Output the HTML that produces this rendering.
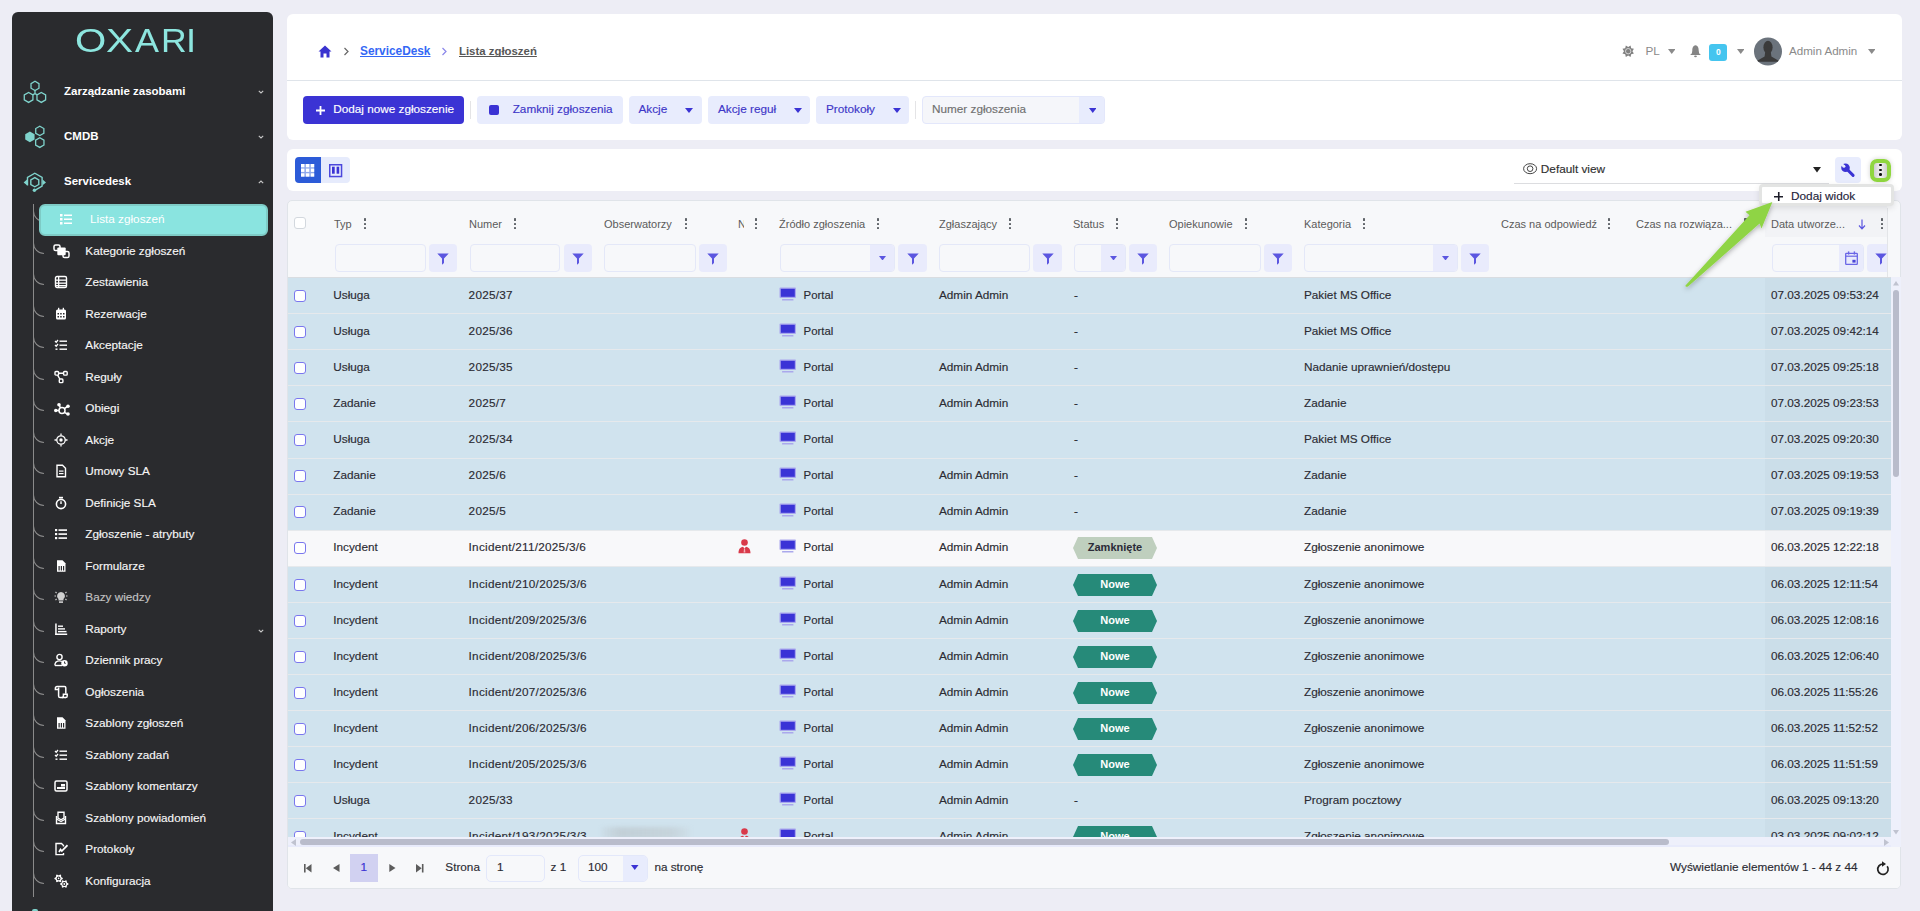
<!DOCTYPE html><html><head><meta charset="utf-8"><title>Lista zgłoszeń</title><style>
*{box-sizing:border-box}
html,body{margin:0;padding:0}
body{width:1920px;height:911px;overflow:hidden;background:#ededf5;position:relative;font-family:'Liberation Sans', Arial, sans-serif}
.t{position:absolute;white-space:nowrap;line-height:20px;font-family:'Liberation Sans', Arial, sans-serif}
.r{position:absolute}
.s{-webkit-text-stroke:0.15px currentColor}
</style></head><body>
<div class="r" style="left:12px;top:12px;width:261px;height:930px;background:#2a2b2e;border-radius:6px"></div>
<div class="t" style="left:75.29px;top:21.5px;font-size:34px;line-height:36px;color:#8de6df;font-weight:normal;transform-origin:0 0;transform:scaleX(1.183)">O</div>
<div class="t" style="left:105.63px;top:21.5px;font-size:34px;line-height:36px;color:#8de6df;font-weight:normal;transform-origin:0 0;transform:scaleX(1.194)">X</div>
<div class="t" style="left:135.30px;top:21.5px;font-size:34px;line-height:36px;color:#8de6df;font-weight:normal;transform-origin:0 0;transform:scaleX(1.058)">A</div>
<div class="t" style="left:161.07px;top:21.5px;font-size:34px;line-height:36px;color:#8de6df;font-weight:normal;transform-origin:0 0;transform:scaleX(1.046)">R</div>
<div class="t" style="left:186.40px;top:21.5px;font-size:34px;line-height:36px;color:#8de6df;font-weight:normal;transform-origin:0 0;transform:scaleX(1.067)">I</div>
<svg class="r" style="left:23px;top:80px;" width="24" height="24" viewBox="0 0 24 24"><g fill="none" stroke="#7fd3cc" stroke-width="1.3"><polygon points="15.98,8.20 12.00,10.50 8.02,8.20 8.02,3.60 12.00,1.30 15.98,3.60"/><polygon points="9.93,19.90 5.60,22.40 1.27,19.90 1.27,14.90 5.60,12.40 9.93,14.90"/><polygon points="22.63,19.90 18.30,22.40 13.97,19.90 13.97,14.90 18.30,12.40 22.63,14.90"/><path d="M12,10.5 V13.6 L9.7,14.9 M12,13.6 L14.3,14.9"/></g></svg>
<svg class="r" style="left:24px;top:125px;" width="24" height="24" viewBox="0 0 24 24"><g fill="none" stroke="#7fd3cc" stroke-width="1.3"><polygon points="19.87,8.25 15.80,10.60 11.73,8.25 11.73,3.55 15.80,1.20 19.87,3.55"/><polygon points="19.96,20.00 15.80,22.40 11.64,20.00 11.64,15.20 15.80,12.80 19.96,15.20"/></g><polygon fill="#7fd3cc" points="10.58,14.60 5.90,17.30 1.22,14.60 1.22,9.20 5.90,6.50 10.58,9.20"/></svg>
<svg class="r" style="left:23px;top:171px;" width="24" height="22" viewBox="0 0 24 22"><g fill="none" stroke="#7fd3cc" stroke-width="1.4"><polygon points="15.78,13.50 11.80,15.80 7.82,13.50 7.82,8.90 11.80,6.60 15.78,8.90"/><path d="M4.5,14.5 V6.4 L11.8,2.2 L19.1,6.4 V15.2 L11.8,19.4"/></g><path fill="#7fd3cc" d="M0.6,11.4 L4,8.6 L4,14.2Z M23,11.4 L19.6,8.6 L19.6,14.2Z"/><circle cx="11.4" cy="19.2" r="1.7" fill="#7fd3cc"/></svg>
<div class="t" style="left:64px;top:81px;font-size:11.5px;font-weight:bold;color:#ffffff;">Zarządzanie zasobami</div>
<div class="t" style="left:64px;top:126px;font-size:11.5px;font-weight:bold;color:#ffffff;">CMDB</div>
<div class="t" style="left:64px;top:171px;font-size:11.5px;font-weight:bold;color:#ffffff;">Servicedesk</div>
<svg class="r" style="left:258px;top:90px;" width="6" height="4" viewBox="0 0 6 4"><path d="M0.8,0.8 L3,3 L5.2,0.8" fill="none" stroke="#c8c8c8" stroke-width="1.1"/></svg>
<svg class="r" style="left:258px;top:135px;" width="6" height="4" viewBox="0 0 6 4"><path d="M0.8,0.8 L3,3 L5.2,0.8" fill="none" stroke="#c8c8c8" stroke-width="1.1"/></svg>
<svg class="r" style="left:258px;top:180px;" width="6" height="4" viewBox="0 0 6 4"><path d="M0.8,3.2 L3,1 L5.2,3.2" fill="none" stroke="#c8c8c8" stroke-width="1.1"/></svg>
<div class="r" style="left:33px;top:204px;width:1px;height:693px;background:#8a8a8a;"></div>
<div class="r" style="left:33px;top:207px;width:11px;height:15px;border-left:1px solid #8a8a8a;border-bottom:1px solid #8a8a8a;border-bottom-left-radius:11px"></div>
<div class="r" style="left:39px;top:204px;width:229px;height:32px;background:#8ae4e0;border:2px solid #7ecbc6;border-radius:6px"></div>
<div class="t" style="left:90px;top:208.5px;font-size:11.75px;font-weight:400;color:#ffffff;">Lista zgłoszeń</div>
<div class="r" style="left:33px;top:239px;width:11px;height:15px;border-left:1px solid #8a8a8a;border-bottom:1px solid #8a8a8a;border-bottom-left-radius:11px"></div>
<div class="t s" style="left:85.3px;top:241px;font-size:11.75px;font-weight:normal;color:#f6f6f6;">Kategorie zgłoszeń</div>
<div class="r" style="left:33px;top:270px;width:11px;height:15px;border-left:1px solid #8a8a8a;border-bottom:1px solid #8a8a8a;border-bottom-left-radius:11px"></div>
<div class="t s" style="left:85.3px;top:272px;font-size:11.75px;font-weight:normal;color:#f6f6f6;">Zestawienia</div>
<div class="r" style="left:33px;top:302px;width:11px;height:15px;border-left:1px solid #8a8a8a;border-bottom:1px solid #8a8a8a;border-bottom-left-radius:11px"></div>
<div class="t s" style="left:85.3px;top:304px;font-size:11.75px;font-weight:normal;color:#f6f6f6;">Rezerwacje</div>
<div class="r" style="left:33px;top:333px;width:11px;height:15px;border-left:1px solid #8a8a8a;border-bottom:1px solid #8a8a8a;border-bottom-left-radius:11px"></div>
<div class="t s" style="left:85.3px;top:335px;font-size:11.75px;font-weight:normal;color:#f6f6f6;">Akceptacje</div>
<div class="r" style="left:33px;top:365px;width:11px;height:15px;border-left:1px solid #8a8a8a;border-bottom:1px solid #8a8a8a;border-bottom-left-radius:11px"></div>
<div class="t s" style="left:85.3px;top:367px;font-size:11.75px;font-weight:normal;color:#f6f6f6;">Reguły</div>
<div class="r" style="left:33px;top:396px;width:11px;height:15px;border-left:1px solid #8a8a8a;border-bottom:1px solid #8a8a8a;border-bottom-left-radius:11px"></div>
<div class="t s" style="left:85.3px;top:398px;font-size:11.75px;font-weight:normal;color:#f6f6f6;">Obiegi</div>
<div class="r" style="left:33px;top:428px;width:11px;height:15px;border-left:1px solid #8a8a8a;border-bottom:1px solid #8a8a8a;border-bottom-left-radius:11px"></div>
<div class="t s" style="left:85.3px;top:430px;font-size:11.75px;font-weight:normal;color:#f6f6f6;">Akcje</div>
<div class="r" style="left:33px;top:459px;width:11px;height:15px;border-left:1px solid #8a8a8a;border-bottom:1px solid #8a8a8a;border-bottom-left-radius:11px"></div>
<div class="t s" style="left:85.3px;top:461px;font-size:11.75px;font-weight:normal;color:#f6f6f6;">Umowy SLA</div>
<div class="r" style="left:33px;top:491px;width:11px;height:15px;border-left:1px solid #8a8a8a;border-bottom:1px solid #8a8a8a;border-bottom-left-radius:11px"></div>
<div class="t s" style="left:85.3px;top:493px;font-size:11.75px;font-weight:normal;color:#f6f6f6;">Definicje SLA</div>
<div class="r" style="left:33px;top:522px;width:11px;height:15px;border-left:1px solid #8a8a8a;border-bottom:1px solid #8a8a8a;border-bottom-left-radius:11px"></div>
<div class="t s" style="left:85.3px;top:524px;font-size:11.75px;font-weight:normal;color:#f6f6f6;">Zgłoszenie - atrybuty</div>
<div class="r" style="left:33px;top:554px;width:11px;height:15px;border-left:1px solid #8a8a8a;border-bottom:1px solid #8a8a8a;border-bottom-left-radius:11px"></div>
<div class="t s" style="left:85.3px;top:556px;font-size:11.75px;font-weight:normal;color:#f6f6f6;">Formularze</div>
<div class="r" style="left:33px;top:585px;width:11px;height:15px;border-left:1px solid #8a8a8a;border-bottom:1px solid #8a8a8a;border-bottom-left-radius:11px"></div>
<div class="t s" style="left:85.3px;top:587px;font-size:11.75px;font-weight:normal;color:#c2c2c2;">Bazy wiedzy</div>
<div class="r" style="left:33px;top:617px;width:11px;height:15px;border-left:1px solid #8a8a8a;border-bottom:1px solid #8a8a8a;border-bottom-left-radius:11px"></div>
<div class="t s" style="left:85.3px;top:619px;font-size:11.75px;font-weight:normal;color:#f6f6f6;">Raporty</div>
<svg class="r" style="left:258px;top:629px;" width="6" height="4" viewBox="0 0 6 4"><path d="M0.8,0.8 L3,3 L5.2,0.8" fill="none" stroke="#c8c8c8" stroke-width="1.1"/></svg>
<div class="r" style="left:33px;top:648px;width:11px;height:15px;border-left:1px solid #8a8a8a;border-bottom:1px solid #8a8a8a;border-bottom-left-radius:11px"></div>
<div class="t s" style="left:85.3px;top:650px;font-size:11.75px;font-weight:normal;color:#f6f6f6;">Dziennik pracy</div>
<div class="r" style="left:33px;top:680px;width:11px;height:15px;border-left:1px solid #8a8a8a;border-bottom:1px solid #8a8a8a;border-bottom-left-radius:11px"></div>
<div class="t s" style="left:85.3px;top:682px;font-size:11.75px;font-weight:normal;color:#f6f6f6;">Ogłoszenia</div>
<div class="r" style="left:33px;top:711px;width:11px;height:15px;border-left:1px solid #8a8a8a;border-bottom:1px solid #8a8a8a;border-bottom-left-radius:11px"></div>
<div class="t s" style="left:85.3px;top:713px;font-size:11.75px;font-weight:normal;color:#f6f6f6;">Szablony zgłoszeń</div>
<div class="r" style="left:33px;top:743px;width:11px;height:15px;border-left:1px solid #8a8a8a;border-bottom:1px solid #8a8a8a;border-bottom-left-radius:11px"></div>
<div class="t s" style="left:85.3px;top:745px;font-size:11.75px;font-weight:normal;color:#f6f6f6;">Szablony zadań</div>
<div class="r" style="left:33px;top:774px;width:11px;height:15px;border-left:1px solid #8a8a8a;border-bottom:1px solid #8a8a8a;border-bottom-left-radius:11px"></div>
<div class="t s" style="left:85.3px;top:776px;font-size:11.75px;font-weight:normal;color:#f6f6f6;">Szablony komentarzy</div>
<div class="r" style="left:33px;top:806px;width:11px;height:15px;border-left:1px solid #8a8a8a;border-bottom:1px solid #8a8a8a;border-bottom-left-radius:11px"></div>
<div class="t s" style="left:85.3px;top:808px;font-size:11.75px;font-weight:normal;color:#f6f6f6;">Szablony powiadomień</div>
<div class="r" style="left:33px;top:837px;width:11px;height:15px;border-left:1px solid #8a8a8a;border-bottom:1px solid #8a8a8a;border-bottom-left-radius:11px"></div>
<div class="t s" style="left:85.3px;top:839px;font-size:11.75px;font-weight:normal;color:#f6f6f6;">Protokoły</div>
<div class="r" style="left:33px;top:869px;width:11px;height:15px;border-left:1px solid #8a8a8a;border-bottom:1px solid #8a8a8a;border-bottom-left-radius:11px"></div>
<div class="t s" style="left:85.3px;top:871px;font-size:11.75px;font-weight:normal;color:#f6f6f6;">Konfiguracja</div>
<svg class="r" style="left:59px;top:212px;" width="14" height="14" viewBox="0 0 14 14"><g fill="#ffffff"><rect x="1" y="2" width="2.5" height="2.5"/><rect x="1" y="6" width="2.5" height="2.5"/><rect x="1" y="10" width="2.5" height="2.5"/><rect x="5" y="2.5" width="8" height="1.5"/><rect x="5" y="6.5" width="8" height="1.5"/><rect x="5" y="10.5" width="8" height="1.5"/></g></svg>
<svg class="r" style="left:53px;top:244px;" width="17" height="15" viewBox="0 0 17 15"><g fill="none" stroke="#ffffff" stroke-width="1.5"><rect x="1" y="1" width="6" height="5.5" rx="1.6"/><rect x="10" y="7.5" width="6" height="6" rx="1.6"/></g><rect x="4.3" y="3.6" width="8.4" height="7.6" rx="1" fill="#ffffff"/></svg>
<svg class="r" style="left:54px;top:275px;" width="14" height="14" viewBox="0 0 14 14"><rect x="1.5" y="1.5" width="11" height="11" rx="1.5" fill="none" stroke="#ffffff" stroke-width="1.4"/><g fill="#ffffff"><rect x="1.5" y="4.5" width="11" height="1.3"/><rect x="1.5" y="7.5" width="11" height="1.3"/><rect x="1.5" y="10" width="11" height="1.3"/><rect x="4" y="1.5" width="1.3" height="11"/></g></svg>
<svg class="r" style="left:54px;top:307px;" width="14" height="14" viewBox="0 0 14 14"><rect x="2" y="2.5" width="10" height="10" rx="1.5" fill="#ffffff"/><g fill="#2a2b2e"><rect x="3.5" y="6" width="1.5" height="1.5"/><rect x="6.2" y="6" width="1.5" height="1.5"/><rect x="9" y="6" width="1.5" height="1.5"/><rect x="3.5" y="9" width="1.5" height="1.5"/><rect x="6.2" y="9" width="1.5" height="1.5"/><rect x="9" y="9" width="1.5" height="1.5"/></g><g fill="#ffffff"><rect x="4" y="0.8" width="1.3" height="3"/><rect x="8.7" y="0.8" width="1.3" height="3"/></g></svg>
<svg class="r" style="left:54px;top:338px;" width="14" height="14" viewBox="0 0 14 14"><g fill="none" stroke="#ffffff" stroke-width="1.3"><path d="M1,3 L2.2,4.2 L4,2"/><path d="M1,7 L2.2,8.2 L4,6"/></g><g fill="#ffffff"><rect x="5.5" y="2.5" width="7.5" height="1.4"/><rect x="5.5" y="6.5" width="7.5" height="1.4"/><rect x="5.5" y="10.5" width="7.5" height="1.4"/><rect x="1.5" y="10.5" width="2" height="1.4"/></g></svg>
<svg class="r" style="left:54px;top:370px;" width="14" height="14" viewBox="0 0 14 14"><g fill="none" stroke="#ffffff" stroke-width="1.4"><rect x="1" y="1.5" width="3.6" height="3.6" rx="0.9"/><rect x="9.6" y="1.5" width="3.6" height="3.6" rx="0.9"/><rect x="5.3" y="9" width="3.6" height="3.6" rx="0.9"/><path d="M4.6,3.3 H9.6 M3.6,5.1 L5.8,9"/></g></svg>
<svg class="r" style="left:54px;top:400px;" width="16" height="16" viewBox="0 0 16 16"><g fill="none" stroke="#ffffff" stroke-width="1.5"><circle cx="8" cy="10.5" r="3"/><path d="M2,10.5 H5 M5.2,5 L6.5,8 M13.5,6.5 L10.3,8.6 M13.5,14 L10.3,12.4"/></g><g fill="#ffffff"><circle cx="5" cy="4.7" r="1.8"/><circle cx="1.8" cy="10.5" r="1.8"/><circle cx="14" cy="6.3" r="1.8"/><circle cx="14" cy="14" r="1.8"/></g></svg>
<svg class="r" style="left:54px;top:433px;" width="14" height="14" viewBox="0 0 14 14"><g fill="none" stroke="#ffffff" stroke-width="1.3"><circle cx="7" cy="7" r="4.2"/><path d="M7,0.5 V2.8 M7,11.2 V13.5 M0.5,7 H2.8 M11.2,7 H13.5"/></g><circle cx="7" cy="7" r="1.7" fill="#ffffff"/></svg>
<svg class="r" style="left:54px;top:464px;" width="14" height="14" viewBox="0 0 14 14"><path d="M3,1.2 H8.5 L11.5,4.2 V12.8 H3Z" fill="none" stroke="#ffffff" stroke-width="1.4"/><g fill="#ffffff"><rect x="5" y="6.5" width="4.5" height="1.2"/><rect x="5" y="9" width="4.5" height="1.2"/></g></svg>
<svg class="r" style="left:54px;top:496px;" width="14" height="14" viewBox="0 0 14 14"><circle cx="7" cy="8" r="4.6" fill="none" stroke="#ffffff" stroke-width="1.6"/><path d="M7,8 V5.2" stroke="#ffffff" stroke-width="1.4"/><rect x="5" y="0.8" width="4" height="1.6" fill="#ffffff"/></svg>
<svg class="r" style="left:54px;top:527px;" width="14" height="14" viewBox="0 0 14 14"><g fill="#ffffff"><rect x="1" y="2" width="2.2" height="2.2"/><rect x="1" y="6" width="2.2" height="2.2"/><rect x="1" y="10" width="2.2" height="2.2"/><rect x="4.5" y="2.3" width="8.5" height="1.6"/><rect x="4.5" y="6.3" width="8.5" height="1.6"/><rect x="4.5" y="10.3" width="8.5" height="1.6"/></g></svg>
<svg class="r" style="left:54px;top:559px;" width="14" height="14" viewBox="0 0 14 14"><path d="M3,1.2 H8.5 L11.5,4.2 V12.8 H3Z" fill="#ffffff"/><g fill="#2a2b2e"><rect x="4.5" y="7" width="1.2" height="4.5"/><rect x="6.8" y="7" width="1.2" height="4.5"/><rect x="9" y="7" width="1.2" height="4.5"/></g></svg>
<svg class="r" style="left:54px;top:590px;" width="14" height="14" viewBox="0 0 14 14"><path d="M7,2 a4,4 0 0 1 2.5,7.1 V10.5 H4.5 V9.1 A4,4 0 0 1 7,2Z" fill="#d0d0d0"/><rect x="5" y="11.3" width="4" height="1.6" fill="#d0d0d0"/><g stroke="#d0d0d0" stroke-width="1.1"><path d="M0.5,6 H2 M12,6 H13.5 M1.5,2 L2.6,3 M12.5,2 L11.4,3 M1.5,10 L2.6,9 M12.5,10 L11.4,9"/></g></svg>
<svg class="r" style="left:54px;top:622px;" width="14" height="14" viewBox="0 0 14 14"><g fill="#ffffff"><rect x="1.2" y="1.5" width="1.5" height="11.5"/><rect x="1.2" y="11.5" width="12" height="1.5"/><rect x="4" y="3.5" width="5" height="1.4"/><rect x="4" y="6.2" width="7" height="1.4"/><rect x="4" y="8.9" width="8.5" height="1.4"/></g></svg>
<svg class="r" style="left:54px;top:653px;" width="14" height="14" viewBox="0 0 14 14"><circle cx="5.5" cy="4" r="2.6" fill="none" stroke="#ffffff" stroke-width="1.4"/><path d="M1,12.5 V11 A4.5,3.5 0 0 1 8,8.5" fill="none" stroke="#ffffff" stroke-width="1.4"/><path d="M1,12.5 H8" stroke="#ffffff" stroke-width="1.4"/><circle cx="10.5" cy="10.2" r="3.2" fill="#ffffff"/><path d="M10.5,8.5 V10.3 H11.8" stroke="#2a2b2e" stroke-width="0.9" fill="none"/></svg>
<svg class="r" style="left:54px;top:685px;" width="14" height="14" viewBox="0 0 14 14"><g fill="none" stroke="#ffffff" stroke-width="1.5"><path d="M3,1.5 H10.5 A1.3,1.3 0 0 1 11.8,2.8 V8.8"/><path d="M3,1.5 A1.6,1.6 0 0 0 1.4,3.1 V4.6 H4.5"/><path d="M4.6,2.5 V11 A1.6,1.6 0 0 0 6.2,12.6 H12"/><path d="M7.8,12.6 A1.6,1.6 0 0 0 9.4,11 V9.3 H13.2 V11 A1.6,1.6 0 0 1 11.6,12.6"/></g></svg>
<svg class="r" style="left:54px;top:716px;" width="14" height="14" viewBox="0 0 14 14"><path d="M3,1.2 H8.5 L11.5,4.2 V12.8 H3Z" fill="#ffffff"/><g fill="#2a2b2e"><rect x="4.5" y="7" width="1.2" height="4.5"/><rect x="6.8" y="7" width="1.2" height="4.5"/><rect x="9" y="7" width="1.2" height="4.5"/></g></svg>
<svg class="r" style="left:54px;top:748px;" width="14" height="14" viewBox="0 0 14 14"><g fill="none" stroke="#ffffff" stroke-width="1.3"><path d="M1,3 L2.2,4.2 L4,2"/><path d="M1,7 L2.2,8.2 L4,6"/></g><g fill="#ffffff"><rect x="5.5" y="2.5" width="7.5" height="1.4"/><rect x="5.5" y="6.5" width="7.5" height="1.4"/><rect x="5.5" y="10.5" width="7.5" height="1.4"/><rect x="1.5" y="10.5" width="2" height="1.4"/></g></svg>
<svg class="r" style="left:54px;top:779px;" width="14" height="14" viewBox="0 0 14 14"><rect x="1" y="2" width="12" height="10" rx="1.5" fill="none" stroke="#ffffff" stroke-width="1.5"/><g fill="#ffffff"><rect x="7" y="5" width="4" height="2.5"/><rect x="3" y="8" width="8" height="2"/></g></svg>
<svg class="r" style="left:54px;top:811px;" width="14" height="14" viewBox="0 0 14 14"><path d="M2.5,5 V12.5 H11.5 V5" fill="none" stroke="#ffffff" stroke-width="1.4"/><path d="M4,1.2 H10 V7 L7,8.8 L4,7Z" fill="none" stroke="#ffffff" stroke-width="1.4"/><path d="M2.5,8 L7,10.5 L11.5,8" fill="none" stroke="#ffffff" stroke-width="1.3"/></svg>
<svg class="r" style="left:54px;top:842px;" width="14" height="14" viewBox="0 0 14 14"><g fill="none" stroke="#ffffff" stroke-width="1.4"><path d="M9.5,4.5 V3.5 L7.5,1.5 H2 V12.6 H9.5 V11"/></g><path d="M5,10 L6.5,7.5 L7.8,9 L13.5,3.2" fill="none" stroke="#ffffff" stroke-width="1.7"/></svg>
<svg class="r" style="left:54px;top:874px;" width="15" height="15" viewBox="0 0 15 15"><polygon points="8.77,3.92 8.77,4.88 7.45,5.63 7.09,6.25 7.10,7.77 6.27,8.25 4.96,7.48 4.24,7.48 2.93,8.25 2.10,7.77 2.11,6.25 1.75,5.63 0.43,4.88 0.43,3.92 1.75,3.17 2.11,2.55 2.10,1.03 2.93,0.55 4.24,1.32 4.96,1.32 6.27,0.55 7.10,1.03 7.09,2.55 7.45,3.17" fill="#ffffff"/><circle cx="4.6" cy="4.4" r="1.9" fill="#2a2b2e"/><circle cx="4.6" cy="4.4" r="0.8" fill="#ffffff"/><polygon points="14.47,9.52 14.47,10.48 13.15,11.23 12.79,11.85 12.80,13.37 11.97,13.85 10.66,13.08 9.94,13.08 8.63,13.85 7.80,13.37 7.81,11.85 7.45,11.23 6.13,10.48 6.13,9.52 7.45,8.77 7.81,8.15 7.80,6.63 8.63,6.15 9.94,6.92 10.66,6.92 11.97,6.15 12.80,6.63 12.79,8.15 13.15,8.77" fill="#ffffff"/><circle cx="10.3" cy="10" r="2" fill="#2a2b2e"/><circle cx="10.3" cy="10" r="0.9" fill="#ffffff"/></svg>
<div class="r" style="left:32px;top:909px;width:6px;height:4px;background:#7fd3cc;border-radius:2px 2px 0 0"></div>
<div class="r" style="left:287px;top:14px;width:1615px;height:126px;background:#ffffff;border-radius:6px"></div>
<div class="r" style="left:287px;top:80px;width:1615px;height:1px;background:#dfe4ea;"></div>
<svg class="r" style="left:318px;top:45px;" width="14" height="13" viewBox="0 0 14 13"><path d="M7,0.5 L13.5,6.5 H11.5 V12.5 H8.5 V8.5 H5.5 V12.5 H2.5 V6.5 H0.5Z" fill="#3a33cf"/></svg>
<svg class="r" style="left:343px;top:47px;" width="7" height="9" viewBox="0 0 7 9"><path d="M1.5,1 L5,4.5 L1.5,8" fill="none" stroke="#666" stroke-width="1.2"/></svg>
<svg class="r" style="left:441px;top:47px;" width="7" height="9" viewBox="0 0 7 9"><path d="M1.5,1 L5,4.5 L1.5,8" fill="none" stroke="#8a86ea" stroke-width="1.2"/></svg>
<div class="t" style="left:360px;top:40.5px;font-size:11.85px;font-weight:bold;color:#3468f5;text-decoration:underline;text-underline-offset:1px;text-decoration-skip-ink:none">ServiceDesk</div>
<div class="t" style="left:459px;top:40.5px;font-size:11.4px;font-weight:bold;color:#575757;text-decoration:underline;text-underline-offset:1px;text-decoration-skip-ink:none">Lista zgłoszeń</div>
<svg class="r" style="left:1621.6px;top:45.1px;" width="12.4" height="12.4" viewBox="0 0 12.4 12.4"><polygon points="8.57,0.47 9.17,3.23 11.93,3.83 10.40,6.20 11.93,8.57 9.17,9.17 8.57,11.93 6.20,10.40 3.83,11.93 3.23,9.17 0.47,8.57 2.00,6.20 0.47,3.83 3.23,3.23 3.83,0.47 6.20,2.00" fill="#808080"/><circle cx="6.2" cy="6.2" r="2.7" fill="none" stroke="#e8e8e8" stroke-width="0.8"/></svg>
<div class="t" style="left:1645.5px;top:40.5px;font-size:11.75px;font-weight:400;color:#8a8a8a;">PL</div>
<svg class="r" style="left:1667.5px;top:49px;" width="7.5" height="5" viewBox="0 0 7.5 5"><path d="M0,0 H7.5 L3.75,5Z" fill="#8a8a8a"/></svg>
<svg class="r" style="left:1690px;top:45.3px;" width="11" height="13" viewBox="0 0 11 13"><path d="M5.5,0.2 C8.2,0.7 8.7,3 8.7,5.5 L9.1,8.2 L10.9,10 H0.1 L1.9,8.2 L2.3,5.5 C2.3,3 2.8,0.7 5.5,0.2Z" fill="#858585"/><ellipse cx="5.5" cy="11.3" rx="1.4" ry="0.9" fill="#858585"/></svg>
<div class="r" style="left:1709px;top:44px;width:18px;height:17px;background:#45c5ef;border-radius:3px"></div>
<div class="t" style="left:1716px;top:41.5px;font-size:8.5px;font-weight:bold;color:#ffffff;">0</div>
<svg class="r" style="left:1736.5px;top:49px;" width="7.5" height="5" viewBox="0 0 7.5 5"><path d="M0,0 H7.5 L3.75,5Z" fill="#8a8a8a"/></svg>
<svg class="r" style="left:1754px;top:37px;" width="28" height="29" viewBox="0 0 28 29"><defs><clipPath id="av"><circle cx="14" cy="14.5" r="14"/></clipPath></defs><circle cx="14" cy="14.5" r="14" fill="#6b737c"/><g clip-path="url(#av)" fill="#3a3a3a"><ellipse cx="14" cy="10.2" rx="4.6" ry="6.4"/><path d="M1.5,24.8 L10.6,19.6 L11.2,15 H16.8 L17.4,19.6 L26.5,24.8Z"/></g></svg>
<div class="t" style="left:1789px;top:40.5px;font-size:11.6px;font-weight:400;color:#8a8a8a;">Admin Admin</div>
<svg class="r" style="left:1867.5px;top:49px;" width="7.5" height="5" viewBox="0 0 7.5 5"><path d="M0,0 H7.5 L3.75,5Z" fill="#8a8a8a"/></svg>
<div class="r" style="left:303px;top:96px;width:161px;height:28px;background:#3b33d4;border-radius:4px"></div>
<svg class="r" style="left:315.5px;top:106px;" width="9" height="9" viewBox="0 0 9 9"><path d="M4.5,0 V9 M0,4.5 H9" stroke="#fff" stroke-width="1.8"/></svg>
<div class="t s" style="left:333.2px;top:99.4px;font-size:11.75px;font-weight:normal;color:#ffffff;">Dodaj nowe zgłoszenie</div>
<div class="r" style="left:470px;top:101px;width:1px;height:18px;background:#e4e4e6;"></div>
<div class="r" style="left:477px;top:96px;width:146px;height:28px;background:#e8ecfd;border-radius:4px"></div>
<div class="r" style="left:488.5px;top:104.5px;width:10.5px;height:10.5px;background:#3b33d4;border-radius:2px"></div>
<div class="t s" style="left:512.7px;top:99.4px;font-size:11.75px;font-weight:normal;color:#3d36c8;">Zamknij zgłoszenia</div>
<div class="r" style="left:629px;top:96px;width:72.5px;height:28px;background:#e8ecfd;border-radius:4px"></div>
<div class="t s" style="left:638.5px;top:99.4px;font-size:11.75px;font-weight:normal;color:#3d36c8;">Akcje</div>
<svg class="r" style="left:685px;top:107.5px;" width="8" height="5" viewBox="0 0 8 5"><path d="M0,0 H8 L4.0,5Z" fill="#3b33d4"/></svg>
<div class="r" style="left:708px;top:96px;width:102px;height:28px;background:#e8ecfd;border-radius:4px"></div>
<div class="t s" style="left:718px;top:99.4px;font-size:11.75px;font-weight:normal;color:#3d36c8;">Akcje reguł</div>
<svg class="r" style="left:794px;top:107.5px;" width="8" height="5" viewBox="0 0 8 5"><path d="M0,0 H8 L4.0,5Z" fill="#3b33d4"/></svg>
<div class="r" style="left:816px;top:96px;width:92.5px;height:28px;background:#e8ecfd;border-radius:4px"></div>
<div class="t s" style="left:826px;top:99.4px;font-size:11.75px;font-weight:normal;color:#3d36c8;">Protokoły</div>
<svg class="r" style="left:893px;top:107.5px;" width="8" height="5" viewBox="0 0 8 5"><path d="M0,0 H8 L4.0,5Z" fill="#3b33d4"/></svg>
<div class="r" style="left:915px;top:101px;width:1px;height:18px;background:#e4e4e6;"></div>
<div class="r" style="left:922px;top:96px;width:183px;height:28px;background:#f5f6fa;border:1px solid #e3e7fb;border-radius:4px"></div>
<div class="r" style="left:1079px;top:97px;width:25px;height:26px;background:#e8ecfd;border-radius:0 3px 3px 0"></div>
<div class="t s" style="left:932px;top:99.4px;font-size:11.75px;font-weight:normal;color:#707070;">Numer zgłoszenia</div>
<svg class="r" style="left:1088.5px;top:107.5px;" width="7.5" height="5" viewBox="0 0 7.5 5"><path d="M0,0 H7.5 L3.75,5Z" fill="#3b33d4"/></svg>
<div class="r" style="left:287px;top:149px;width:1615px;height:42px;background:#ffffff;border-radius:6px"></div>
<div class="r" style="left:295px;top:157px;width:26px;height:26px;background:#2c5bd8;border-radius:4px 0 0 4px"></div>
<div class="r" style="left:321px;top:157px;width:28.5px;height:26px;background:#e6ebfc;border-radius:0 4px 4px 0"></div>
<svg class="r" style="left:301px;top:164px;" width="13.5" height="13" viewBox="0 0 13.5 13"><rect x="0" y="0" width="13.2" height="12.7" fill="#8fa8ec"/><rect x="0" y="0" width="3.4" height="3.3" fill="#fff"/><rect x="0" y="4.6" width="3.4" height="3.3" fill="#fff"/><rect x="0" y="9.3" width="3.4" height="3.3" fill="#fff"/><rect x="4.9" y="0" width="3.4" height="3.3" fill="#fff"/><rect x="4.9" y="4.6" width="3.4" height="3.3" fill="#fff"/><rect x="4.9" y="9.3" width="3.4" height="3.3" fill="#fff"/><rect x="9.8" y="0" width="3.4" height="3.3" fill="#fff"/><rect x="9.8" y="4.6" width="3.4" height="3.3" fill="#fff"/><rect x="9.8" y="9.3" width="3.4" height="3.3" fill="#fff"/></svg>
<svg class="r" style="left:329px;top:164px;" width="13.5" height="13.5" viewBox="0 0 13.5 13.5"><rect x="0.75" y="0.75" width="11.8" height="11.8" fill="none" stroke="#4c47dc" stroke-width="1.5"/><rect x="3" y="2.7" width="2.7" height="7" fill="#3b33d4"/><rect x="7.6" y="2.7" width="2.6" height="7" fill="#3b33d4"/></svg>
<svg class="r" style="left:1522.5px;top:162.8px;" width="15" height="12" viewBox="0 0 15 12"><ellipse cx="7.1" cy="5.7" rx="6.5" ry="5" fill="none" stroke="#3a3a3a" stroke-width="0.95"/><circle cx="7.1" cy="5.7" r="2.8" fill="none" stroke="#3a3a3a" stroke-width="0.95"/></svg>
<div class="t s" style="left:1540.8px;top:158.9px;font-size:11.8px;font-weight:normal;color:#303030;">Default view</div>
<div class="r" style="left:1514px;top:183px;width:315px;height:1px;background:#dcdde0;"></div>
<svg class="r" style="left:1813px;top:167px;" width="8" height="5.5" viewBox="0 0 8 5.5"><path d="M0,0 H8 L4.0,5.5Z" fill="#222"/></svg>
<div class="r" style="left:1835px;top:157px;width:26px;height:25.5px;background:#e8ecfd;border-radius:4px"></div>
<svg class="r" style="left:1839px;top:160px;" width="17" height="18" viewBox="0 0 17 18"><circle cx="6.5" cy="7.8" r="4.3" fill="#3b33d4"/><line x1="6.5" y1="7.8" x2="14.1" y2="15.4" stroke="#3b33d4" stroke-width="3" stroke-linecap="round"/><circle cx="4.9" cy="6.2" r="1.5" fill="#e8ecfd"/><line x1="4.9" y1="6.2" x2="1.8" y2="3.1" stroke="#e8ecfd" stroke-width="2.2"/></svg>
<div class="r" style="left:1869.5px;top:159.3px;width:21px;height:22.3px;background:linear-gradient(90deg,#cfcfcf,#f2f2f2 50%,#cfcfcf);border:4.2px solid #8fd63f;border-radius:7px;box-shadow:0 0 5px rgba(0,0,0,0.18)"></div>
<div class="r" style="left:1879.2px;top:163.8px;width:2.6px;height:2.6px;background:#111;border-radius:50%"></div>
<div class="r" style="left:1879.2px;top:168.5px;width:2.6px;height:2.6px;background:#111;border-radius:50%"></div>
<div class="r" style="left:1879.2px;top:173px;width:2.6px;height:2.6px;background:#111;border-radius:50%"></div>
<div class="r" style="left:287px;top:200px;width:1614px;height:689px;background:#f7f8fa;border:1px solid #e0e4e9;border-radius:5px"></div>
<div class="r" style="left:294px;top:217px;width:12px;height:12px;background:#ffffff;border:1px solid #d3d8de;border-radius:3px"></div>
<div class="r" style="left:1765px;top:201px;width:122px;height:36px;background:#f2f3f6;"></div>
<div class="t" style="left:334px;top:214px;font-size:11px;font-weight:400;color:#5b5b5b;">Typ</div>
<div class="r" style="left:363.5px;top:218.2px;width:2.5px;height:2.4px;background:#5f6368;border-radius:0.6px"></div>
<div class="r" style="left:363.5px;top:222.6px;width:2.5px;height:2.4px;background:#5f6368;border-radius:0.6px"></div>
<div class="r" style="left:363.5px;top:227.1px;width:2.5px;height:2.4px;background:#5f6368;border-radius:0.6px"></div>
<div class="t" style="left:469px;top:214px;font-size:11px;font-weight:400;color:#5b5b5b;">Numer</div>
<div class="r" style="left:513.5px;top:218.2px;width:2.5px;height:2.4px;background:#5f6368;border-radius:0.6px"></div>
<div class="r" style="left:513.5px;top:222.6px;width:2.5px;height:2.4px;background:#5f6368;border-radius:0.6px"></div>
<div class="r" style="left:513.5px;top:227.1px;width:2.5px;height:2.4px;background:#5f6368;border-radius:0.6px"></div>
<div class="t" style="left:604px;top:214px;font-size:11px;font-weight:400;color:#5b5b5b;">Obserwatorzy</div>
<div class="r" style="left:684.5px;top:218.2px;width:2.5px;height:2.4px;background:#5f6368;border-radius:0.6px"></div>
<div class="r" style="left:684.5px;top:222.6px;width:2.5px;height:2.4px;background:#5f6368;border-radius:0.6px"></div>
<div class="r" style="left:684.5px;top:227.1px;width:2.5px;height:2.4px;background:#5f6368;border-radius:0.6px"></div>
<div class="t" style="left:738px;top:214px;font-size:11px;color:#5b5b5b;width:6px;overflow:hidden">N</div>
<div class="r" style="left:754.5px;top:218.2px;width:2.5px;height:2.4px;background:#5f6368;border-radius:0.6px"></div>
<div class="r" style="left:754.5px;top:222.6px;width:2.5px;height:2.4px;background:#5f6368;border-radius:0.6px"></div>
<div class="r" style="left:754.5px;top:227.1px;width:2.5px;height:2.4px;background:#5f6368;border-radius:0.6px"></div>
<div class="t" style="left:779px;top:214px;font-size:11px;font-weight:400;color:#5b5b5b;">Źródło zgłoszenia</div>
<div class="r" style="left:876.5px;top:218.2px;width:2.5px;height:2.4px;background:#5f6368;border-radius:0.6px"></div>
<div class="r" style="left:876.5px;top:222.6px;width:2.5px;height:2.4px;background:#5f6368;border-radius:0.6px"></div>
<div class="r" style="left:876.5px;top:227.1px;width:2.5px;height:2.4px;background:#5f6368;border-radius:0.6px"></div>
<div class="t" style="left:939px;top:214px;font-size:11px;font-weight:400;color:#5b5b5b;">Zgłaszający</div>
<div class="r" style="left:1008.5px;top:218.2px;width:2.5px;height:2.4px;background:#5f6368;border-radius:0.6px"></div>
<div class="r" style="left:1008.5px;top:222.6px;width:2.5px;height:2.4px;background:#5f6368;border-radius:0.6px"></div>
<div class="r" style="left:1008.5px;top:227.1px;width:2.5px;height:2.4px;background:#5f6368;border-radius:0.6px"></div>
<div class="t" style="left:1073px;top:214px;font-size:11px;font-weight:400;color:#5b5b5b;">Status</div>
<div class="r" style="left:1115.5px;top:218.2px;width:2.5px;height:2.4px;background:#5f6368;border-radius:0.6px"></div>
<div class="r" style="left:1115.5px;top:222.6px;width:2.5px;height:2.4px;background:#5f6368;border-radius:0.6px"></div>
<div class="r" style="left:1115.5px;top:227.1px;width:2.5px;height:2.4px;background:#5f6368;border-radius:0.6px"></div>
<div class="t" style="left:1169px;top:214px;font-size:11px;font-weight:400;color:#5b5b5b;">Opiekunowie</div>
<div class="r" style="left:1244.5px;top:218.2px;width:2.5px;height:2.4px;background:#5f6368;border-radius:0.6px"></div>
<div class="r" style="left:1244.5px;top:222.6px;width:2.5px;height:2.4px;background:#5f6368;border-radius:0.6px"></div>
<div class="r" style="left:1244.5px;top:227.1px;width:2.5px;height:2.4px;background:#5f6368;border-radius:0.6px"></div>
<div class="t" style="left:1304px;top:214px;font-size:11px;font-weight:400;color:#5b5b5b;">Kategoria</div>
<div class="r" style="left:1362.5px;top:218.2px;width:2.5px;height:2.4px;background:#5f6368;border-radius:0.6px"></div>
<div class="r" style="left:1362.5px;top:222.6px;width:2.5px;height:2.4px;background:#5f6368;border-radius:0.6px"></div>
<div class="r" style="left:1362.5px;top:227.1px;width:2.5px;height:2.4px;background:#5f6368;border-radius:0.6px"></div>
<div class="t" style="left:1501px;top:214px;font-size:11px;font-weight:400;color:#5b5b5b;">Czas na odpowiedź</div>
<div class="r" style="left:1607.5px;top:218.2px;width:2.5px;height:2.4px;background:#5f6368;border-radius:0.6px"></div>
<div class="r" style="left:1607.5px;top:222.6px;width:2.5px;height:2.4px;background:#5f6368;border-radius:0.6px"></div>
<div class="r" style="left:1607.5px;top:227.1px;width:2.5px;height:2.4px;background:#5f6368;border-radius:0.6px"></div>
<div class="t" style="left:1636px;top:214px;font-size:11px;font-weight:400;color:#5b5b5b;">Czas na rozwiąza...</div>
<div class="r" style="left:1744px;top:218.2px;width:2.5px;height:2.4px;background:#5f6368;border-radius:0.6px"></div>
<div class="r" style="left:1744px;top:222.6px;width:2.5px;height:2.4px;background:#5f6368;border-radius:0.6px"></div>
<div class="r" style="left:1744px;top:227.1px;width:2.5px;height:2.4px;background:#5f6368;border-radius:0.6px"></div>
<div class="t" style="left:1771px;top:214px;font-size:11px;font-weight:400;color:#5b5b5b;">Data utworze...</div>
<svg class="r" style="left:1858px;top:218.5px;" width="8" height="11" viewBox="0 0 8 11"><path d="M4,0.5 V9.5 M1,6.5 L4,9.8 L7,6.5" fill="none" stroke="#5a55e0" stroke-width="1.2"/></svg>
<div class="r" style="left:1880.5px;top:218.2px;width:2.5px;height:2.4px;background:#5f6368;border-radius:0.6px"></div>
<div class="r" style="left:1880.5px;top:222.6px;width:2.5px;height:2.4px;background:#5f6368;border-radius:0.6px"></div>
<div class="r" style="left:1880.5px;top:227.1px;width:2.5px;height:2.4px;background:#5f6368;border-radius:0.6px"></div>
<div class="r" style="left:1887px;top:208px;width:1px;height:69px;background:#e3e5e8;"></div>
<div class="r" style="left:334.5px;top:244px;width:91.0px;height:28px;background:#f7f8fa;border:1px solid #e4e8f8;border-radius:4px"></div>
<div class="r" style="left:429px;top:244px;width:28px;height:28px;background:#e9ebfc;border-radius:4px"></div>
<svg class="r" style="left:437.0px;top:252.5px;" width="12" height="12" viewBox="0 0 12 12"><path d="M0.3,0.5 H11.7 L7,5.6 V10 L5,11.8 V5.6Z" fill="#5b56e0"/></svg>
<div class="r" style="left:469.5px;top:244px;width:90.5px;height:28px;background:#f7f8fa;border:1px solid #e4e8f8;border-radius:4px"></div>
<div class="r" style="left:564px;top:244px;width:28px;height:28px;background:#e9ebfc;border-radius:4px"></div>
<svg class="r" style="left:572.0px;top:252.5px;" width="12" height="12" viewBox="0 0 12 12"><path d="M0.3,0.5 H11.7 L7,5.6 V10 L5,11.8 V5.6Z" fill="#5b56e0"/></svg>
<div class="r" style="left:604px;top:244px;width:92px;height:28px;background:#f7f8fa;border:1px solid #e4e8f8;border-radius:4px"></div>
<div class="r" style="left:699px;top:244px;width:28px;height:28px;background:#e9ebfc;border-radius:4px"></div>
<svg class="r" style="left:707.0px;top:252.5px;" width="12" height="12" viewBox="0 0 12 12"><path d="M0.3,0.5 H11.7 L7,5.6 V10 L5,11.8 V5.6Z" fill="#5b56e0"/></svg>
<div class="r" style="left:779.5px;top:244px;width:115.0px;height:28px;background:#f7f8fa;border:1px solid #e4e8f8;border-radius:4px"></div>
<div class="r" style="left:870px;top:245px;width:23.5px;height:26px;background:#e9ebfc;border-radius:0 3px 3px 0"></div>
<svg class="r" style="left:878.75px;top:255.5px;" width="7" height="4.5" viewBox="0 0 7 4.5"><path d="M0,0 H7 L3.5,4.5Z" fill="#5b56e0"/></svg>
<div class="r" style="left:898px;top:244px;width:29px;height:28px;background:#e9ebfc;border-radius:4px"></div>
<svg class="r" style="left:906.5px;top:252.5px;" width="12" height="12" viewBox="0 0 12 12"><path d="M0.3,0.5 H11.7 L7,5.6 V10 L5,11.8 V5.6Z" fill="#5b56e0"/></svg>
<div class="r" style="left:938.5px;top:244px;width:91.0px;height:28px;background:#f7f8fa;border:1px solid #e4e8f8;border-radius:4px"></div>
<div class="r" style="left:1033px;top:244px;width:29px;height:28px;background:#e9ebfc;border-radius:4px"></div>
<svg class="r" style="left:1041.5px;top:252.5px;" width="12" height="12" viewBox="0 0 12 12"><path d="M0.3,0.5 H11.7 L7,5.6 V10 L5,11.8 V5.6Z" fill="#5b56e0"/></svg>
<div class="r" style="left:1073.5px;top:244px;width:52.5px;height:28px;background:#f7f8fa;border:1px solid #e4e8f8;border-radius:4px"></div>
<div class="r" style="left:1101px;top:245px;width:24px;height:26px;background:#e9ebfc;border-radius:0 3px 3px 0"></div>
<svg class="r" style="left:1110.0px;top:255.5px;" width="7" height="4.5" viewBox="0 0 7 4.5"><path d="M0,0 H7 L3.5,4.5Z" fill="#5b56e0"/></svg>
<div class="r" style="left:1129px;top:244px;width:28px;height:28px;background:#e9ebfc;border-radius:4px"></div>
<svg class="r" style="left:1137.0px;top:252.5px;" width="12" height="12" viewBox="0 0 12 12"><path d="M0.3,0.5 H11.7 L7,5.6 V10 L5,11.8 V5.6Z" fill="#5b56e0"/></svg>
<div class="r" style="left:1169px;top:244px;width:92px;height:28px;background:#f7f8fa;border:1px solid #e4e8f8;border-radius:4px"></div>
<div class="r" style="left:1264px;top:244px;width:28px;height:28px;background:#e9ebfc;border-radius:4px"></div>
<svg class="r" style="left:1272.0px;top:252.5px;" width="12" height="12" viewBox="0 0 12 12"><path d="M0.3,0.5 H11.7 L7,5.6 V10 L5,11.8 V5.6Z" fill="#5b56e0"/></svg>
<div class="r" style="left:1304px;top:244px;width:154px;height:28px;background:#f7f8fa;border:1px solid #e4e8f8;border-radius:4px"></div>
<div class="r" style="left:1433px;top:245px;width:24px;height:26px;background:#e9ebfc;border-radius:0 3px 3px 0"></div>
<svg class="r" style="left:1442.0px;top:255.5px;" width="7" height="4.5" viewBox="0 0 7 4.5"><path d="M0,0 H7 L3.5,4.5Z" fill="#5b56e0"/></svg>
<div class="r" style="left:1461px;top:244px;width:28px;height:28px;background:#e9ebfc;border-radius:4px"></div>
<svg class="r" style="left:1469.0px;top:252.5px;" width="12" height="12" viewBox="0 0 12 12"><path d="M0.3,0.5 H11.7 L7,5.6 V10 L5,11.8 V5.6Z" fill="#5b56e0"/></svg>
<div class="r" style="left:1771.5px;top:244px;width:92.5px;height:28px;background:#f7f8fa;border:1px solid #e4e8f8;border-radius:4px"></div>
<div class="r" style="left:1839px;top:245px;width:24px;height:26px;background:#e9ebfc;border-radius:0 3px 3px 0"></div>
<svg class="r" style="left:1845px;top:251px;" width="13" height="14" viewBox="0 0 13 14"><rect x="0.7" y="2.4" width="11.6" height="10.9" rx="0.6" fill="none" stroke="#6a66e6" stroke-width="1.3"/><rect x="0.7" y="4.6" width="11.6" height="1.2" fill="#6a66e6"/><rect x="2.9" y="0.4" width="1.4" height="3.2" fill="#6a66e6"/><rect x="8.7" y="0.4" width="1.4" height="3.2" fill="#6a66e6"/><rect x="7.4" y="8.8" width="3.2" height="2.8" fill="#4a45d8"/></svg>
<div class="r" style="left:1867px;top:244px;width:20px;height:28px;overflow:hidden"><div class="r" style="left:0;top:0;width:28px;height:28px;background:#e9ebfc;border-radius:4px"></div></div>
<svg class="r" style="left:1875px;top:252.5px;" width="12" height="12" viewBox="0 0 12 12"><path d="M0.3,0.5 H11.7 L7,5.6 V10 L5,11.8 V5.6Z" fill="#5b56e0"/></svg>
<div class="r" style="left:288px;top:277px;width:1603px;height:560px;overflow:hidden">
<div class="r" style="left:0px;top:0px;width:1603px;height:1px;background:#d9dde1;"></div>
<div class="r" style="left:0px;top:1px;width:1603px;height:35px;background:#d0e3ee;"></div>
<div class="r" style="left:1477px;top:1px;width:126px;height:35px;background:#cbdee9;"></div>
<div class="r" style="left:0px;top:36px;width:1603px;height:1px;background:#e6e9ec;"></div>
<div class="r" style="left:6px;top:13px;width:12px;height:12px;background:#ffffff;border:1px solid #7a77ee;border-radius:3px"></div>
<div class="t s" style="left:45.30000000000001px;top:8px;font-size:11.75px;font-weight:normal;color:#2b2b33;">Usługa</div>
<div class="t s" style="left:180.60000000000002px;top:8px;font-size:11.75px;font-weight:normal;color:#2b2b33;letter-spacing:0.25px">2025/37</div>
<svg class="r" style="left:491px;top:10px;" width="18" height="14" viewBox="0 0 18 14"><rect x="0.5" y="0.5" width="16.5" height="10.5" rx="1" fill="#a9a6ee"/><rect x="1.8" y="1.8" width="14" height="8" fill="#3a33d6"/><rect x="3" y="12" width="11.5" height="1.6" rx="0.6" fill="#aaa8ec"/></svg>
<div class="t s" style="left:515.6px;top:8px;font-size:11.4px;font-weight:normal;color:#2b2b33;">Portal</div>
<div class="t s" style="left:651px;top:8px;font-size:11.75px;font-weight:normal;color:#2b2b33;">Admin Admin</div>
<div class="t s" style="left:786px;top:8px;font-size:11.75px;font-weight:normal;color:#2b2b33;">-</div>
<div class="t s" style="left:1016px;top:8px;font-size:11.75px;font-weight:normal;color:#2b2b33;">Pakiet MS Office</div>
<div class="t s" style="left:1483px;top:8px;font-size:11.75px;font-weight:normal;color:#2b2b33;">07.03.2025 09:53:24</div>
<div class="r" style="left:0px;top:37px;width:1603px;height:35px;background:#d0e3ee;"></div>
<div class="r" style="left:1477px;top:37px;width:126px;height:35px;background:#cbdee9;"></div>
<div class="r" style="left:0px;top:72px;width:1603px;height:1px;background:#e6e9ec;"></div>
<div class="r" style="left:6px;top:49px;width:12px;height:12px;background:#ffffff;border:1px solid #7a77ee;border-radius:3px"></div>
<div class="t s" style="left:45.30000000000001px;top:44px;font-size:11.75px;font-weight:normal;color:#2b2b33;">Usługa</div>
<div class="t s" style="left:180.60000000000002px;top:44px;font-size:11.75px;font-weight:normal;color:#2b2b33;letter-spacing:0.25px">2025/36</div>
<svg class="r" style="left:491px;top:46px;" width="18" height="14" viewBox="0 0 18 14"><rect x="0.5" y="0.5" width="16.5" height="10.5" rx="1" fill="#a9a6ee"/><rect x="1.8" y="1.8" width="14" height="8" fill="#3a33d6"/><rect x="3" y="12" width="11.5" height="1.6" rx="0.6" fill="#aaa8ec"/></svg>
<div class="t s" style="left:515.6px;top:44px;font-size:11.4px;font-weight:normal;color:#2b2b33;">Portal</div>
<div class="t s" style="left:786px;top:44px;font-size:11.75px;font-weight:normal;color:#2b2b33;">-</div>
<div class="t s" style="left:1016px;top:44px;font-size:11.75px;font-weight:normal;color:#2b2b33;">Pakiet MS Office</div>
<div class="t s" style="left:1483px;top:44px;font-size:11.75px;font-weight:normal;color:#2b2b33;">07.03.2025 09:42:14</div>
<div class="r" style="left:0px;top:73px;width:1603px;height:35px;background:#d0e3ee;"></div>
<div class="r" style="left:1477px;top:73px;width:126px;height:35px;background:#cbdee9;"></div>
<div class="r" style="left:0px;top:108px;width:1603px;height:1px;background:#e6e9ec;"></div>
<div class="r" style="left:6px;top:85px;width:12px;height:12px;background:#ffffff;border:1px solid #7a77ee;border-radius:3px"></div>
<div class="t s" style="left:45.30000000000001px;top:80px;font-size:11.75px;font-weight:normal;color:#2b2b33;">Usługa</div>
<div class="t s" style="left:180.60000000000002px;top:80px;font-size:11.75px;font-weight:normal;color:#2b2b33;letter-spacing:0.25px">2025/35</div>
<svg class="r" style="left:491px;top:82px;" width="18" height="14" viewBox="0 0 18 14"><rect x="0.5" y="0.5" width="16.5" height="10.5" rx="1" fill="#a9a6ee"/><rect x="1.8" y="1.8" width="14" height="8" fill="#3a33d6"/><rect x="3" y="12" width="11.5" height="1.6" rx="0.6" fill="#aaa8ec"/></svg>
<div class="t s" style="left:515.6px;top:80px;font-size:11.4px;font-weight:normal;color:#2b2b33;">Portal</div>
<div class="t s" style="left:651px;top:80px;font-size:11.75px;font-weight:normal;color:#2b2b33;">Admin Admin</div>
<div class="t s" style="left:786px;top:80px;font-size:11.75px;font-weight:normal;color:#2b2b33;">-</div>
<div class="t s" style="left:1016px;top:80px;font-size:11.75px;font-weight:normal;color:#2b2b33;">Nadanie uprawnień/dostępu</div>
<div class="t s" style="left:1483px;top:80px;font-size:11.75px;font-weight:normal;color:#2b2b33;">07.03.2025 09:25:18</div>
<div class="r" style="left:0px;top:109px;width:1603px;height:35px;background:#d0e3ee;"></div>
<div class="r" style="left:1477px;top:109px;width:126px;height:35px;background:#cbdee9;"></div>
<div class="r" style="left:0px;top:144px;width:1603px;height:1px;background:#e6e9ec;"></div>
<div class="r" style="left:6px;top:121px;width:12px;height:12px;background:#ffffff;border:1px solid #7a77ee;border-radius:3px"></div>
<div class="t s" style="left:45.30000000000001px;top:116px;font-size:11.75px;font-weight:normal;color:#2b2b33;">Zadanie</div>
<div class="t s" style="left:180.60000000000002px;top:116px;font-size:11.75px;font-weight:normal;color:#2b2b33;letter-spacing:0.25px">2025/7</div>
<svg class="r" style="left:491px;top:118px;" width="18" height="14" viewBox="0 0 18 14"><rect x="0.5" y="0.5" width="16.5" height="10.5" rx="1" fill="#a9a6ee"/><rect x="1.8" y="1.8" width="14" height="8" fill="#3a33d6"/><rect x="3" y="12" width="11.5" height="1.6" rx="0.6" fill="#aaa8ec"/></svg>
<div class="t s" style="left:515.6px;top:116px;font-size:11.4px;font-weight:normal;color:#2b2b33;">Portal</div>
<div class="t s" style="left:651px;top:116px;font-size:11.75px;font-weight:normal;color:#2b2b33;">Admin Admin</div>
<div class="t s" style="left:786px;top:116px;font-size:11.75px;font-weight:normal;color:#2b2b33;">-</div>
<div class="t s" style="left:1016px;top:116px;font-size:11.75px;font-weight:normal;color:#2b2b33;">Zadanie</div>
<div class="t s" style="left:1483px;top:116px;font-size:11.75px;font-weight:normal;color:#2b2b33;">07.03.2025 09:23:53</div>
<div class="r" style="left:0px;top:145px;width:1603px;height:36px;background:#d0e3ee;"></div>
<div class="r" style="left:1477px;top:145px;width:126px;height:36px;background:#cbdee9;"></div>
<div class="r" style="left:0px;top:181px;width:1603px;height:1px;background:#e6e9ec;"></div>
<div class="r" style="left:6px;top:157px;width:12px;height:12px;background:#ffffff;border:1px solid #7a77ee;border-radius:3px"></div>
<div class="t s" style="left:45.30000000000001px;top:152px;font-size:11.75px;font-weight:normal;color:#2b2b33;">Usługa</div>
<div class="t s" style="left:180.60000000000002px;top:152px;font-size:11.75px;font-weight:normal;color:#2b2b33;letter-spacing:0.25px">2025/34</div>
<svg class="r" style="left:491px;top:154px;" width="18" height="14" viewBox="0 0 18 14"><rect x="0.5" y="0.5" width="16.5" height="10.5" rx="1" fill="#a9a6ee"/><rect x="1.8" y="1.8" width="14" height="8" fill="#3a33d6"/><rect x="3" y="12" width="11.5" height="1.6" rx="0.6" fill="#aaa8ec"/></svg>
<div class="t s" style="left:515.6px;top:152px;font-size:11.4px;font-weight:normal;color:#2b2b33;">Portal</div>
<div class="t s" style="left:786px;top:152px;font-size:11.75px;font-weight:normal;color:#2b2b33;">-</div>
<div class="t s" style="left:1016px;top:152px;font-size:11.75px;font-weight:normal;color:#2b2b33;">Pakiet MS Office</div>
<div class="t s" style="left:1483px;top:152px;font-size:11.75px;font-weight:normal;color:#2b2b33;">07.03.2025 09:20:30</div>
<div class="r" style="left:0px;top:182px;width:1603px;height:35px;background:#d0e3ee;"></div>
<div class="r" style="left:1477px;top:182px;width:126px;height:35px;background:#cbdee9;"></div>
<div class="r" style="left:0px;top:217px;width:1603px;height:1px;background:#e6e9ec;"></div>
<div class="r" style="left:6px;top:193px;width:12px;height:12px;background:#ffffff;border:1px solid #7a77ee;border-radius:3px"></div>
<div class="t s" style="left:45.30000000000001px;top:188px;font-size:11.75px;font-weight:normal;color:#2b2b33;">Zadanie</div>
<div class="t s" style="left:180.60000000000002px;top:188px;font-size:11.75px;font-weight:normal;color:#2b2b33;letter-spacing:0.25px">2025/6</div>
<svg class="r" style="left:491px;top:190px;" width="18" height="14" viewBox="0 0 18 14"><rect x="0.5" y="0.5" width="16.5" height="10.5" rx="1" fill="#a9a6ee"/><rect x="1.8" y="1.8" width="14" height="8" fill="#3a33d6"/><rect x="3" y="12" width="11.5" height="1.6" rx="0.6" fill="#aaa8ec"/></svg>
<div class="t s" style="left:515.6px;top:188px;font-size:11.4px;font-weight:normal;color:#2b2b33;">Portal</div>
<div class="t s" style="left:651px;top:188px;font-size:11.75px;font-weight:normal;color:#2b2b33;">Admin Admin</div>
<div class="t s" style="left:786px;top:188px;font-size:11.75px;font-weight:normal;color:#2b2b33;">-</div>
<div class="t s" style="left:1016px;top:188px;font-size:11.75px;font-weight:normal;color:#2b2b33;">Zadanie</div>
<div class="t s" style="left:1483px;top:188px;font-size:11.75px;font-weight:normal;color:#2b2b33;">07.03.2025 09:19:53</div>
<div class="r" style="left:0px;top:218px;width:1603px;height:35px;background:#d0e3ee;"></div>
<div class="r" style="left:1477px;top:218px;width:126px;height:35px;background:#cbdee9;"></div>
<div class="r" style="left:0px;top:253px;width:1603px;height:1px;background:#e6e9ec;"></div>
<div class="r" style="left:6px;top:229px;width:12px;height:12px;background:#ffffff;border:1px solid #7a77ee;border-radius:3px"></div>
<div class="t s" style="left:45.30000000000001px;top:224px;font-size:11.75px;font-weight:normal;color:#2b2b33;">Zadanie</div>
<div class="t s" style="left:180.60000000000002px;top:224px;font-size:11.75px;font-weight:normal;color:#2b2b33;letter-spacing:0.25px">2025/5</div>
<svg class="r" style="left:491px;top:226px;" width="18" height="14" viewBox="0 0 18 14"><rect x="0.5" y="0.5" width="16.5" height="10.5" rx="1" fill="#a9a6ee"/><rect x="1.8" y="1.8" width="14" height="8" fill="#3a33d6"/><rect x="3" y="12" width="11.5" height="1.6" rx="0.6" fill="#aaa8ec"/></svg>
<div class="t s" style="left:515.6px;top:224px;font-size:11.4px;font-weight:normal;color:#2b2b33;">Portal</div>
<div class="t s" style="left:651px;top:224px;font-size:11.75px;font-weight:normal;color:#2b2b33;">Admin Admin</div>
<div class="t s" style="left:786px;top:224px;font-size:11.75px;font-weight:normal;color:#2b2b33;">-</div>
<div class="t s" style="left:1016px;top:224px;font-size:11.75px;font-weight:normal;color:#2b2b33;">Zadanie</div>
<div class="t s" style="left:1483px;top:224px;font-size:11.75px;font-weight:normal;color:#2b2b33;">07.03.2025 09:19:39</div>
<div class="r" style="left:0px;top:254px;width:1603px;height:35px;background:#f8f8fa;"></div>
<div class="r" style="left:1477px;top:254px;width:126px;height:35px;background:#f2f3f6;"></div>
<div class="r" style="left:0px;top:289px;width:1603px;height:1px;background:#e6e9ec;"></div>
<div class="r" style="left:6px;top:265px;width:12px;height:12px;background:#ffffff;border:1px solid #7a77ee;border-radius:3px"></div>
<div class="t s" style="left:45.30000000000001px;top:260px;font-size:11.75px;font-weight:normal;color:#2b2b33;">Incydent</div>
<div class="t s" style="left:180.60000000000002px;top:260px;font-size:11.75px;font-weight:normal;color:#2b2b33;letter-spacing:0.25px">Incident/211/2025/3/6</div>
<svg class="r" style="left:491px;top:262px;" width="18" height="14" viewBox="0 0 18 14"><rect x="0.5" y="0.5" width="16.5" height="10.5" rx="1" fill="#a9a6ee"/><rect x="1.8" y="1.8" width="14" height="8" fill="#3a33d6"/><rect x="3" y="12" width="11.5" height="1.6" rx="0.6" fill="#aaa8ec"/></svg>
<div class="t s" style="left:515.6px;top:260px;font-size:11.4px;font-weight:normal;color:#2b2b33;">Portal</div>
<div class="t s" style="left:651px;top:260px;font-size:11.75px;font-weight:normal;color:#2b2b33;">Admin Admin</div>
<div class="r" style="left:785px;top:260px;width:84px;height:22px;background:#bfcfbe;clip-path:polygon(5px 0,79px 0,84px 11px,79px 22px,5px 22px,0 11px);font:bold 11px/21px 'Liberation Sans', Arial, sans-serif;color:#2b2b38;text-align:center">Zamknięte</div>
<div class="t s" style="left:1016px;top:260px;font-size:11.75px;font-weight:normal;color:#2b2b33;">Zgłoszenie anonimowe</div>
<div class="t s" style="left:1483px;top:260px;font-size:11.75px;font-weight:normal;color:#2b2b33;">06.03.2025 12:22:18</div>
<svg class="r" style="left:450px;top:261.5px;" width="13" height="15" viewBox="0 0 13 15"><circle cx="6.5" cy="3.5" r="3.3" fill="#d9394a"/><path d="M0.5,14.2 C0.5,9.5 3,8 5,7.8 L6.5,9.5 L8,7.8 C10,8 12.5,9.5 12.5,14.2Z" fill="#d9394a"/><path d="M6,9.5 H7 L7.4,13.5 H5.6Z" fill="#f3b0b8"/></svg>
<div class="r" style="left:0px;top:290px;width:1603px;height:35px;background:#d0e3ee;"></div>
<div class="r" style="left:1477px;top:290px;width:126px;height:35px;background:#cbdee9;"></div>
<div class="r" style="left:0px;top:325px;width:1603px;height:1px;background:#e6e9ec;"></div>
<div class="r" style="left:6px;top:302px;width:12px;height:12px;background:#ffffff;border:1px solid #7a77ee;border-radius:3px"></div>
<div class="t s" style="left:45.30000000000001px;top:297px;font-size:11.75px;font-weight:normal;color:#2b2b33;">Incydent</div>
<div class="t s" style="left:180.60000000000002px;top:297px;font-size:11.75px;font-weight:normal;color:#2b2b33;letter-spacing:0.25px">Incident/210/2025/3/6</div>
<svg class="r" style="left:491px;top:299px;" width="18" height="14" viewBox="0 0 18 14"><rect x="0.5" y="0.5" width="16.5" height="10.5" rx="1" fill="#a9a6ee"/><rect x="1.8" y="1.8" width="14" height="8" fill="#3a33d6"/><rect x="3" y="12" width="11.5" height="1.6" rx="0.6" fill="#aaa8ec"/></svg>
<div class="t s" style="left:515.6px;top:297px;font-size:11.4px;font-weight:normal;color:#2b2b33;">Portal</div>
<div class="t s" style="left:651px;top:297px;font-size:11.75px;font-weight:normal;color:#2b2b33;">Admin Admin</div>
<div class="r" style="left:785px;top:297px;width:84px;height:22px;background:#268a79;clip-path:polygon(5px 0,79px 0,84px 11px,79px 22px,5px 22px,0 11px);font:bold 11px/21px 'Liberation Sans', Arial, sans-serif;color:#ffffff;text-align:center">Nowe</div>
<div class="t s" style="left:1016px;top:297px;font-size:11.75px;font-weight:normal;color:#2b2b33;">Zgłoszenie anonimowe</div>
<div class="t s" style="left:1483px;top:297px;font-size:11.75px;font-weight:normal;color:#2b2b33;">06.03.2025 12:11:54</div>
<div class="r" style="left:0px;top:326px;width:1603px;height:35px;background:#d0e3ee;"></div>
<div class="r" style="left:1477px;top:326px;width:126px;height:35px;background:#cbdee9;"></div>
<div class="r" style="left:0px;top:361px;width:1603px;height:1px;background:#e6e9ec;"></div>
<div class="r" style="left:6px;top:338px;width:12px;height:12px;background:#ffffff;border:1px solid #7a77ee;border-radius:3px"></div>
<div class="t s" style="left:45.30000000000001px;top:333px;font-size:11.75px;font-weight:normal;color:#2b2b33;">Incydent</div>
<div class="t s" style="left:180.60000000000002px;top:333px;font-size:11.75px;font-weight:normal;color:#2b2b33;letter-spacing:0.25px">Incident/209/2025/3/6</div>
<svg class="r" style="left:491px;top:335px;" width="18" height="14" viewBox="0 0 18 14"><rect x="0.5" y="0.5" width="16.5" height="10.5" rx="1" fill="#a9a6ee"/><rect x="1.8" y="1.8" width="14" height="8" fill="#3a33d6"/><rect x="3" y="12" width="11.5" height="1.6" rx="0.6" fill="#aaa8ec"/></svg>
<div class="t s" style="left:515.6px;top:333px;font-size:11.4px;font-weight:normal;color:#2b2b33;">Portal</div>
<div class="t s" style="left:651px;top:333px;font-size:11.75px;font-weight:normal;color:#2b2b33;">Admin Admin</div>
<div class="r" style="left:785px;top:333px;width:84px;height:22px;background:#268a79;clip-path:polygon(5px 0,79px 0,84px 11px,79px 22px,5px 22px,0 11px);font:bold 11px/21px 'Liberation Sans', Arial, sans-serif;color:#ffffff;text-align:center">Nowe</div>
<div class="t s" style="left:1016px;top:333px;font-size:11.75px;font-weight:normal;color:#2b2b33;">Zgłoszenie anonimowe</div>
<div class="t s" style="left:1483px;top:333px;font-size:11.75px;font-weight:normal;color:#2b2b33;">06.03.2025 12:08:16</div>
<div class="r" style="left:0px;top:362px;width:1603px;height:35px;background:#d0e3ee;"></div>
<div class="r" style="left:1477px;top:362px;width:126px;height:35px;background:#cbdee9;"></div>
<div class="r" style="left:0px;top:397px;width:1603px;height:1px;background:#e6e9ec;"></div>
<div class="r" style="left:6px;top:374px;width:12px;height:12px;background:#ffffff;border:1px solid #7a77ee;border-radius:3px"></div>
<div class="t s" style="left:45.30000000000001px;top:369px;font-size:11.75px;font-weight:normal;color:#2b2b33;">Incydent</div>
<div class="t s" style="left:180.60000000000002px;top:369px;font-size:11.75px;font-weight:normal;color:#2b2b33;letter-spacing:0.25px">Incident/208/2025/3/6</div>
<svg class="r" style="left:491px;top:371px;" width="18" height="14" viewBox="0 0 18 14"><rect x="0.5" y="0.5" width="16.5" height="10.5" rx="1" fill="#a9a6ee"/><rect x="1.8" y="1.8" width="14" height="8" fill="#3a33d6"/><rect x="3" y="12" width="11.5" height="1.6" rx="0.6" fill="#aaa8ec"/></svg>
<div class="t s" style="left:515.6px;top:369px;font-size:11.4px;font-weight:normal;color:#2b2b33;">Portal</div>
<div class="t s" style="left:651px;top:369px;font-size:11.75px;font-weight:normal;color:#2b2b33;">Admin Admin</div>
<div class="r" style="left:785px;top:369px;width:84px;height:22px;background:#268a79;clip-path:polygon(5px 0,79px 0,84px 11px,79px 22px,5px 22px,0 11px);font:bold 11px/21px 'Liberation Sans', Arial, sans-serif;color:#ffffff;text-align:center">Nowe</div>
<div class="t s" style="left:1016px;top:369px;font-size:11.75px;font-weight:normal;color:#2b2b33;">Zgłoszenie anonimowe</div>
<div class="t s" style="left:1483px;top:369px;font-size:11.75px;font-weight:normal;color:#2b2b33;">06.03.2025 12:06:40</div>
<div class="r" style="left:0px;top:398px;width:1603px;height:35px;background:#d0e3ee;"></div>
<div class="r" style="left:1477px;top:398px;width:126px;height:35px;background:#cbdee9;"></div>
<div class="r" style="left:0px;top:433px;width:1603px;height:1px;background:#e6e9ec;"></div>
<div class="r" style="left:6px;top:410px;width:12px;height:12px;background:#ffffff;border:1px solid #7a77ee;border-radius:3px"></div>
<div class="t s" style="left:45.30000000000001px;top:405px;font-size:11.75px;font-weight:normal;color:#2b2b33;">Incydent</div>
<div class="t s" style="left:180.60000000000002px;top:405px;font-size:11.75px;font-weight:normal;color:#2b2b33;letter-spacing:0.25px">Incident/207/2025/3/6</div>
<svg class="r" style="left:491px;top:407px;" width="18" height="14" viewBox="0 0 18 14"><rect x="0.5" y="0.5" width="16.5" height="10.5" rx="1" fill="#a9a6ee"/><rect x="1.8" y="1.8" width="14" height="8" fill="#3a33d6"/><rect x="3" y="12" width="11.5" height="1.6" rx="0.6" fill="#aaa8ec"/></svg>
<div class="t s" style="left:515.6px;top:405px;font-size:11.4px;font-weight:normal;color:#2b2b33;">Portal</div>
<div class="t s" style="left:651px;top:405px;font-size:11.75px;font-weight:normal;color:#2b2b33;">Admin Admin</div>
<div class="r" style="left:785px;top:405px;width:84px;height:22px;background:#268a79;clip-path:polygon(5px 0,79px 0,84px 11px,79px 22px,5px 22px,0 11px);font:bold 11px/21px 'Liberation Sans', Arial, sans-serif;color:#ffffff;text-align:center">Nowe</div>
<div class="t s" style="left:1016px;top:405px;font-size:11.75px;font-weight:normal;color:#2b2b33;">Zgłoszenie anonimowe</div>
<div class="t s" style="left:1483px;top:405px;font-size:11.75px;font-weight:normal;color:#2b2b33;">06.03.2025 11:55:26</div>
<div class="r" style="left:0px;top:434px;width:1603px;height:35px;background:#d0e3ee;"></div>
<div class="r" style="left:1477px;top:434px;width:126px;height:35px;background:#cbdee9;"></div>
<div class="r" style="left:0px;top:469px;width:1603px;height:1px;background:#e6e9ec;"></div>
<div class="r" style="left:6px;top:446px;width:12px;height:12px;background:#ffffff;border:1px solid #7a77ee;border-radius:3px"></div>
<div class="t s" style="left:45.30000000000001px;top:441px;font-size:11.75px;font-weight:normal;color:#2b2b33;">Incydent</div>
<div class="t s" style="left:180.60000000000002px;top:441px;font-size:11.75px;font-weight:normal;color:#2b2b33;letter-spacing:0.25px">Incident/206/2025/3/6</div>
<svg class="r" style="left:491px;top:443px;" width="18" height="14" viewBox="0 0 18 14"><rect x="0.5" y="0.5" width="16.5" height="10.5" rx="1" fill="#a9a6ee"/><rect x="1.8" y="1.8" width="14" height="8" fill="#3a33d6"/><rect x="3" y="12" width="11.5" height="1.6" rx="0.6" fill="#aaa8ec"/></svg>
<div class="t s" style="left:515.6px;top:441px;font-size:11.4px;font-weight:normal;color:#2b2b33;">Portal</div>
<div class="t s" style="left:651px;top:441px;font-size:11.75px;font-weight:normal;color:#2b2b33;">Admin Admin</div>
<div class="r" style="left:785px;top:441px;width:84px;height:22px;background:#268a79;clip-path:polygon(5px 0,79px 0,84px 11px,79px 22px,5px 22px,0 11px);font:bold 11px/21px 'Liberation Sans', Arial, sans-serif;color:#ffffff;text-align:center">Nowe</div>
<div class="t s" style="left:1016px;top:441px;font-size:11.75px;font-weight:normal;color:#2b2b33;">Zgłoszenie anonimowe</div>
<div class="t s" style="left:1483px;top:441px;font-size:11.75px;font-weight:normal;color:#2b2b33;">06.03.2025 11:52:52</div>
<div class="r" style="left:0px;top:470px;width:1603px;height:35px;background:#d0e3ee;"></div>
<div class="r" style="left:1477px;top:470px;width:126px;height:35px;background:#cbdee9;"></div>
<div class="r" style="left:0px;top:505px;width:1603px;height:1px;background:#e6e9ec;"></div>
<div class="r" style="left:6px;top:482px;width:12px;height:12px;background:#ffffff;border:1px solid #7a77ee;border-radius:3px"></div>
<div class="t s" style="left:45.30000000000001px;top:477px;font-size:11.75px;font-weight:normal;color:#2b2b33;">Incydent</div>
<div class="t s" style="left:180.60000000000002px;top:477px;font-size:11.75px;font-weight:normal;color:#2b2b33;letter-spacing:0.25px">Incident/205/2025/3/6</div>
<svg class="r" style="left:491px;top:479px;" width="18" height="14" viewBox="0 0 18 14"><rect x="0.5" y="0.5" width="16.5" height="10.5" rx="1" fill="#a9a6ee"/><rect x="1.8" y="1.8" width="14" height="8" fill="#3a33d6"/><rect x="3" y="12" width="11.5" height="1.6" rx="0.6" fill="#aaa8ec"/></svg>
<div class="t s" style="left:515.6px;top:477px;font-size:11.4px;font-weight:normal;color:#2b2b33;">Portal</div>
<div class="t s" style="left:651px;top:477px;font-size:11.75px;font-weight:normal;color:#2b2b33;">Admin Admin</div>
<div class="r" style="left:785px;top:477px;width:84px;height:22px;background:#268a79;clip-path:polygon(5px 0,79px 0,84px 11px,79px 22px,5px 22px,0 11px);font:bold 11px/21px 'Liberation Sans', Arial, sans-serif;color:#ffffff;text-align:center">Nowe</div>
<div class="t s" style="left:1016px;top:477px;font-size:11.75px;font-weight:normal;color:#2b2b33;">Zgłoszenie anonimowe</div>
<div class="t s" style="left:1483px;top:477px;font-size:11.75px;font-weight:normal;color:#2b2b33;">06.03.2025 11:51:59</div>
<div class="r" style="left:0px;top:506px;width:1603px;height:35px;background:#d0e3ee;"></div>
<div class="r" style="left:1477px;top:506px;width:126px;height:35px;background:#cbdee9;"></div>
<div class="r" style="left:0px;top:541px;width:1603px;height:1px;background:#e6e9ec;"></div>
<div class="r" style="left:6px;top:518px;width:12px;height:12px;background:#ffffff;border:1px solid #7a77ee;border-radius:3px"></div>
<div class="t s" style="left:45.30000000000001px;top:513px;font-size:11.75px;font-weight:normal;color:#2b2b33;">Usługa</div>
<div class="t s" style="left:180.60000000000002px;top:513px;font-size:11.75px;font-weight:normal;color:#2b2b33;letter-spacing:0.25px">2025/33</div>
<svg class="r" style="left:491px;top:515px;" width="18" height="14" viewBox="0 0 18 14"><rect x="0.5" y="0.5" width="16.5" height="10.5" rx="1" fill="#a9a6ee"/><rect x="1.8" y="1.8" width="14" height="8" fill="#3a33d6"/><rect x="3" y="12" width="11.5" height="1.6" rx="0.6" fill="#aaa8ec"/></svg>
<div class="t s" style="left:515.6px;top:513px;font-size:11.4px;font-weight:normal;color:#2b2b33;">Portal</div>
<div class="t s" style="left:651px;top:513px;font-size:11.75px;font-weight:normal;color:#2b2b33;">Admin Admin</div>
<div class="t s" style="left:786px;top:513px;font-size:11.75px;font-weight:normal;color:#2b2b33;">-</div>
<div class="t s" style="left:1016px;top:513px;font-size:11.75px;font-weight:normal;color:#2b2b33;">Program pocztowy</div>
<div class="t s" style="left:1483px;top:513px;font-size:11.75px;font-weight:normal;color:#2b2b33;">06.03.2025 09:13:20</div>
<div class="r" style="left:0px;top:542px;width:1603px;height:35px;background:#d0e3ee;"></div>
<div class="r" style="left:1477px;top:542px;width:126px;height:35px;background:#cbdee9;"></div>
<div class="r" style="left:0px;top:577px;width:1603px;height:1px;background:#e6e9ec;"></div>
<div class="r" style="left:6px;top:554px;width:12px;height:12px;background:#ffffff;border:1px solid #7a77ee;border-radius:3px"></div>
<div class="t s" style="left:45.30000000000001px;top:549px;font-size:11.75px;font-weight:normal;color:#2b2b33;">Incydent</div>
<div class="t s" style="left:180.60000000000002px;top:549px;font-size:11.75px;font-weight:normal;color:#2b2b33;letter-spacing:0.25px">Incident/193/2025/3/3</div>
<svg class="r" style="left:491px;top:551px;" width="18" height="14" viewBox="0 0 18 14"><rect x="0.5" y="0.5" width="16.5" height="10.5" rx="1" fill="#a9a6ee"/><rect x="1.8" y="1.8" width="14" height="8" fill="#3a33d6"/><rect x="3" y="12" width="11.5" height="1.6" rx="0.6" fill="#aaa8ec"/></svg>
<div class="t s" style="left:515.6px;top:549px;font-size:11.4px;font-weight:normal;color:#2b2b33;">Portal</div>
<div class="t s" style="left:651px;top:549px;font-size:11.75px;font-weight:normal;color:#2b2b33;">Admin Admin</div>
<div class="r" style="left:785px;top:549px;width:84px;height:22px;background:#268a79;clip-path:polygon(5px 0,79px 0,84px 11px,79px 22px,5px 22px,0 11px);font:bold 11px/21px 'Liberation Sans', Arial, sans-serif;color:#ffffff;text-align:center">Nowe</div>
<div class="t s" style="left:1016px;top:549px;font-size:11.75px;font-weight:normal;color:#2b2b33;">Zgłoszenie anonimowe</div>
<div class="t s" style="left:1483px;top:549px;font-size:11.75px;font-weight:normal;color:#2b2b33;">03.03.2025 09:02:12</div>
<svg class="r" style="left:450px;top:550.5px;" width="13" height="15" viewBox="0 0 13 15"><circle cx="6.5" cy="3.5" r="3.3" fill="#d9394a"/><path d="M0.5,14.2 C0.5,9.5 3,8 5,7.8 L6.5,9.5 L8,7.8 C10,8 12.5,9.5 12.5,14.2Z" fill="#d9394a"/><path d="M6,9.5 H7 L7.4,13.5 H5.6Z" fill="#f3b0b8"/></svg>
<div class="r" style="left:314px;top:550px;width:88px;height:12px;background:linear-gradient(90deg, rgba(190,200,206,0.2), rgba(185,195,200,0.6) 20%, rgba(190,200,205,0.55) 80%, rgba(205,215,220,0.2));filter:blur(2px)"></div>
</div>
<div class="r" style="left:288px;top:837px;width:1603px;height:10px;background:#eef0fb;"></div>
<div class="r" style="left:288px;top:845px;width:1603px;height:2px;background:#e8ebfb;"></div>
<svg class="r" style="left:290.5px;top:838.5px;" width="5" height="7" viewBox="0 0 5 7"><path d="M5,0 V7 L0,3.5Z" fill="#c0c3d0"/></svg>
<div class="r" style="left:300px;top:839.3px;width:1368.5px;height:5.8px;background:#b9bccb;border-radius:3px"></div>
<svg class="r" style="left:1883.5px;top:838.5px;" width="5" height="7" viewBox="0 0 5 7"><path d="M0,0 V7 L5,3.5Z" fill="#c0c3d0"/></svg>
<div class="r" style="left:1891px;top:277px;width:10px;height:570px;background:#eef0fb;"></div>
<svg class="r" style="left:1893px;top:281px;" width="6" height="4.5" viewBox="0 0 6 4.5"><path d="M0,4.5 H6 L3,0Z" fill="#c0c3d0"/></svg>
<svg class="r" style="left:1893px;top:830px;" width="6" height="4.5" viewBox="0 0 6 4.5"><path d="M0,0 H6 L3,4.5Z" fill="#c0c3d0"/></svg>
<div class="r" style="left:1893px;top:289.5px;width:6px;height:187px;background:#b9bccb;border-radius:3px"></div>
<div class="r" style="left:288px;top:847px;width:1612px;height:41px;background:#f7f8fa;border-radius:0 0 4px 4px"></div>
<svg class="r" style="left:303.5px;top:863.5px;" width="8" height="9" viewBox="0 0 8 9"><rect x="0" y="0" width="1.6" height="8.5" fill="#5c5c5c"/><path d="M7.5,0 V8.5 L1.8,4.25Z" fill="#5c5c5c"/></svg>
<svg class="r" style="left:332.5px;top:864px;" width="7" height="8" viewBox="0 0 7 8"><path d="M6.5,0 V8 L0,4Z" fill="#5c5c5c"/></svg>
<div class="r" style="left:350px;top:854px;width:28px;height:28px;background:#d1d1f1;"></div>
<div class="t s" style="left:360.5px;top:857px;font-size:11.75px;font-weight:normal;color:#3b33d4;">1</div>
<svg class="r" style="left:388.5px;top:864px;" width="7" height="8" viewBox="0 0 7 8"><path d="M0.3,0 V8 L6.5,4Z" fill="#5c5c5c"/></svg>
<svg class="r" style="left:416px;top:863.5px;" width="8" height="9" viewBox="0 0 8 9"><path d="M0,0 V8.5 L5.7,4.25Z" fill="#5c5c5c"/><rect x="5.9" y="0" width="1.6" height="8.5" fill="#5c5c5c"/></svg>
<div class="t s" style="left:445.3px;top:857px;font-size:11.75px;font-weight:normal;color:#2b2b33;">Strona</div>
<div class="r" style="left:486px;top:854.5px;width:58.5px;height:27px;background:#f7f8fa;border:1px solid #e3e8fa;border-radius:5px"></div>
<div class="t s" style="left:497px;top:857px;font-size:11.75px;font-weight:normal;color:#2b2b33;">1</div>
<div class="t s" style="left:550.6px;top:857px;font-size:11.75px;font-weight:normal;color:#2b2b33;">z 1</div>
<div class="r" style="left:578px;top:854.5px;width:69.5px;height:27px;background:#f7f8fa;border:1px solid #e3e8fa;border-radius:5px"></div>
<div class="r" style="left:623px;top:855.5px;width:23.5px;height:25px;background:#e8ecfd;border-radius:0 4px 4px 0"></div>
<div class="t s" style="left:588px;top:857px;font-size:11.75px;font-weight:normal;color:#2b2b33;">100</div>
<svg class="r" style="left:631px;top:865px;" width="7.5" height="5" viewBox="0 0 7.5 5"><path d="M0,0 H7.5 L3.75,5Z" fill="#3b33d4"/></svg>
<div class="t s" style="left:654.4px;top:857px;font-size:11.75px;font-weight:normal;color:#2b2b33;">na stronę</div>
<div class="t s" style="left:1670px;top:857px;font-size:11.77px;font-weight:normal;color:#2b2b33;">Wyświetlanie elementów 1 - 44 z 44</div>
<svg class="r" style="left:1875.5px;top:860.5px;" width="14" height="15" viewBox="0 0 14 15"><path d="M11.2,5.2 A5.2,5.2 0 1 1 7,3" fill="none" stroke="#222" stroke-width="1.7"/><path d="M6,0.3 L10,3 L6,5.8Z" fill="#222"/></svg>
<div class="r" style="left:1759px;top:184px;width:135px;height:22px;background:#fff;border:3px solid #e3e4e3;border-radius:4px;box-shadow:0 2px 6px rgba(0,0,0,0.10)"></div>
<svg class="r" style="left:1773.5px;top:191.5px;" width="9.5" height="9.5" viewBox="0 0 9.5 9.5"><path d="M4.75,0 V9.5 M0,4.75 H9.5" stroke="#1e1e2a" stroke-width="1.6"/></svg>
<div class="t s" style="left:1791px;top:186px;font-size:11.8px;font-weight:normal;color:#1e1e3a;">Dodaj widok</div>
<svg class="r" style="left:0;top:0;overflow:visible" width="1920" height="911"><defs><filter id="sh" x="-20%" y="-20%" width="140%" height="140%"><feDropShadow dx="0" dy="2" stdDeviation="2.5" flood-color="#000" flood-opacity="0.3"/></filter></defs><path filter="url(#sh)" d="M1685.5,285.5 L1749.5,215.3 L1745.5,211.7 L1772.4,202 L1761.5,228.6 L1759.6,223.6 L1688,286.5 Q1685,287.5 1685.5,285.5Z" fill="#8fd444"/></svg>
</body></html>
